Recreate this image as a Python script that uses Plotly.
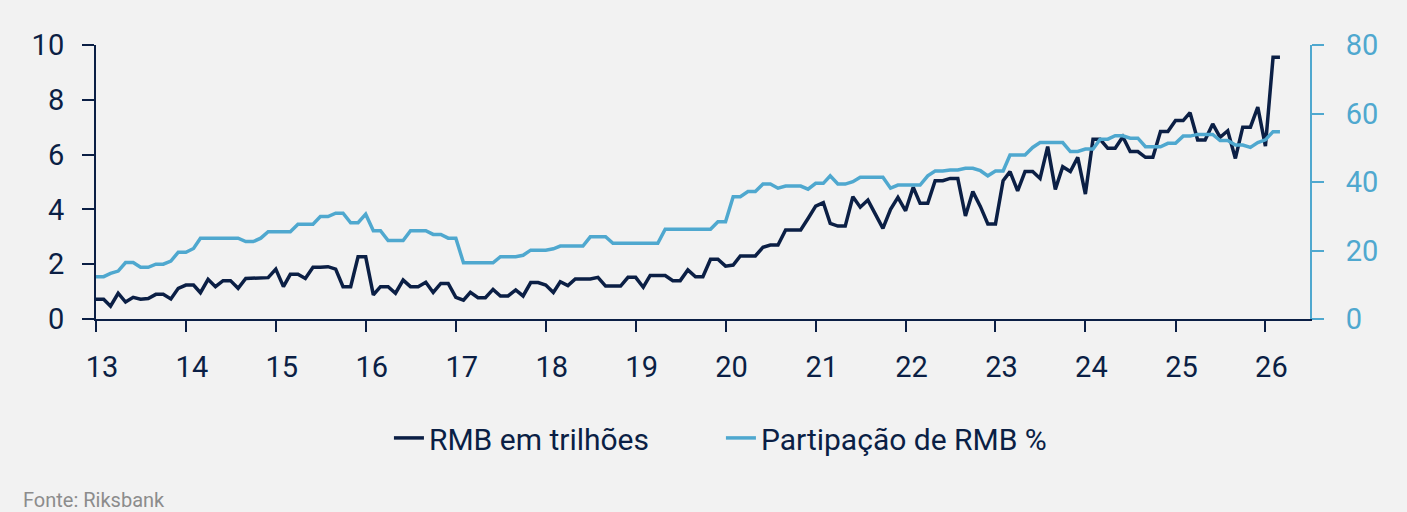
import pandas as pd
import plotly.graph_objects as go

# Monthly data, Jan 2013 - Mar 2026
months = pd.date_range("2013-01-01", periods=159, freq="MS")

rmb_trillions = [
    0.72, 0.72, 0.47, 0.94, 0.62, 0.79, 0.72, 0.75, 0.90, 0.90, 0.73, 1.12,   # 2013
    1.24, 1.24, 0.96, 1.45, 1.18, 1.40, 1.40, 1.12, 1.48, 1.48, 1.51, 1.51,   # 2014
    1.82, 1.18, 1.63, 1.63, 1.48, 1.89, 1.89, 1.91, 1.82, 1.18, 1.18, 2.27,   # 2015
    2.27, 0.88, 1.18, 1.18, 0.94, 1.42, 1.18, 1.18, 1.34, 0.97, 1.30, 1.30,   # 2016
    0.79, 0.69, 0.97, 0.78, 0.78, 1.08, 0.84, 0.84, 1.06, 0.84, 1.33, 1.33,   # 2017
    1.24, 0.97, 1.36, 1.22, 1.46, 1.46, 1.46, 1.52, 1.20, 1.20, 1.20, 1.52,   # 2018
    1.52, 1.16, 1.59, 1.59, 1.59, 1.40, 1.40, 1.79, 1.54, 1.54, 2.18, 2.18,   # 2019
    1.93, 1.97, 2.30, 2.30, 2.30, 2.62, 2.70, 2.70, 3.25, 3.25, 3.25, 3.67,   # 2020
    4.12, 4.25, 3.49, 3.39, 3.39, 4.46, 4.08, 4.34, 3.83, 3.31, 4.00, 4.44,   # 2021
    3.95, 4.81, 4.22, 4.22, 5.05, 5.05, 5.13, 5.13, 3.76, 4.65, 4.10, 3.47,   # 2022
    3.47, 5.05, 5.38, 4.68, 5.38, 5.38, 5.13, 6.29, 4.73, 5.56, 5.38, 5.90,   # 2023
    4.56, 6.56, 6.56, 6.23, 6.23, 6.65, 6.11, 6.11, 5.90, 5.90, 6.84, 6.84,   # 2024
    7.24, 7.24, 7.53, 6.53, 6.53, 7.12, 6.63, 6.87, 5.86, 7.00, 7.00, 7.73,   # 2025
    6.31, 9.55, 9.55,                                                          # 2026
]

rmb_share_pct = [
    12.35, 12.35, 13.3, 14.0, 16.5, 16.5, 15.1, 15.1, 16.0, 16.0, 16.9, 19.5,  # 2013
    19.5, 20.6, 23.6, 23.6, 23.6, 23.6, 23.6, 23.6, 22.6, 22.6, 23.6, 25.5,    # 2014
    25.5, 25.5, 25.5, 27.7, 27.7, 27.7, 29.9, 29.9, 30.9, 30.9, 28.1, 28.1,    # 2015
    30.6, 25.8, 25.8, 22.9, 22.9, 22.9, 25.8, 25.8, 25.8, 24.7, 24.7, 23.6,    # 2016
    23.6, 16.4, 16.4, 16.4, 16.4, 16.4, 18.2, 18.2, 18.2, 18.6, 20.1, 20.1,    # 2017
    20.1, 20.5, 21.3, 21.3, 21.3, 21.3, 24.0, 24.0, 24.0, 22.1, 22.1, 22.1,    # 2018
    22.1, 22.1, 22.1, 22.1, 26.2, 26.2, 26.2, 26.2, 26.2, 26.2, 26.2, 28.4,    # 2019
    28.4, 35.7, 35.7, 37.2, 37.2, 39.4, 39.4, 38.2, 38.8, 38.8, 38.8, 37.9,    # 2020
    39.6, 39.6, 41.8, 39.4, 39.4, 40.1, 41.4, 41.4, 41.4, 41.4, 38.2, 39.1,    # 2021
    39.1, 39.1, 39.1, 41.8, 43.2, 43.2, 43.5, 43.5, 44.0, 44.0, 43.3, 41.8,    # 2022
    43.2, 43.2, 47.9, 47.9, 47.9, 50.1, 51.5, 51.5, 51.5, 51.5, 48.9, 48.9,    # 2023
    49.6, 49.6, 52.5, 52.5, 53.5, 53.5, 52.8, 52.8, 50.3, 50.3, 50.3, 51.3,    # 2024
    51.3, 53.4, 53.4, 53.9, 53.9, 53.9, 52.1, 52.1, 50.8, 50.8, 50.1, 51.5,    # 2025
    52.3, 54.7, 54.7,                                                           # 2026
]

year_ticks = [f"{y}-01-01" for y in range(2013, 2027)]
year_labels = [str(y)[2:] for y in range(2013, 2027)]

NAVY = "#0b1f45"
BLUE = "#4fa8cf"
BG = "#f2f2f2"
FONT = "Roboto"
FS = 29

fig = go.Figure()
fig.add_trace(go.Scatter(
    x=months, y=rmb_trillions, name="RMB em trilhões", mode="lines",
    line=dict(color=NAVY, width=3.5), yaxis="y"))
fig.add_trace(go.Scatter(
    x=months, y=rmb_share_pct, name="Partipação de RMB %", mode="lines",
    line=dict(color=BLUE, width=3.5), yaxis="y2"))

fig.update_layout(
    width=1407, height=512,
    paper_bgcolor=BG, plot_bgcolor=BG,
    margin=dict(l=96, r=97, t=45, b=193, autoexpand=False),
    font=dict(family=FONT, color=NAVY, size=FS),
    showlegend=True,
    legend=dict(orientation="h", x=0.2413, xanchor="left", y=-0.434, yanchor="middle",
                entrywidth=287, entrywidthmode="pixels",
                font=dict(size=30, color=NAVY), bgcolor="rgba(0,0,0,0)"),
    xaxis=dict(
        type="date", range=["2013-01-01", "2026-07-01"],
        tickvals=year_ticks, ticktext=year_labels,
        showline=True, linecolor=NAVY, linewidth=2,
        ticks="outside", ticklen=11, tickwidth=2, tickcolor=NAVY,
        tickfont=dict(size=FS, color=NAVY),
        ticklabelstandoff=10, ticklabelshift=6,
        showgrid=False, zeroline=False, automargin=False,
    ),
    yaxis=dict(
        range=[0, 10], tickvals=[0, 2, 4, 6, 8, 10],
        showline=True, linecolor=NAVY, linewidth=2,
        ticks="outside", ticklen=12, tickwidth=2, tickcolor=NAVY,
        tickfont=dict(size=FS, color=NAVY),
        ticklabelstandoff=12,
        showgrid=False, zeroline=False, automargin=False,
    ),
    yaxis2=dict(
        range=[0, 80], tickvals=[0, 20, 40, 60, 80],
        overlaying="y", side="right", anchor="x",
        showline=True, linecolor=BLUE, linewidth=2,
        ticks="outside", ticklen=12, tickwidth=2, tickcolor=BLUE,
        tickfont=dict(size=FS, color=BLUE),
        ticklabelstandoff=16,
        showgrid=False, zeroline=False, automargin=False,
    ),
)

fig.add_annotation(
    text="Fonte: Riksbank", xref="paper", yref="paper",
    x=-0.0618, y=-0.66, xanchor="left", yanchor="middle",
    showarrow=False, font=dict(size=20, color="#8c8c8c", family=FONT),
)

fig.write_html(
    "out.html",
    config={"displayModeBar": False},
    post_script="document.body.style.margin='0';document.body.style.padding='0';",
)
